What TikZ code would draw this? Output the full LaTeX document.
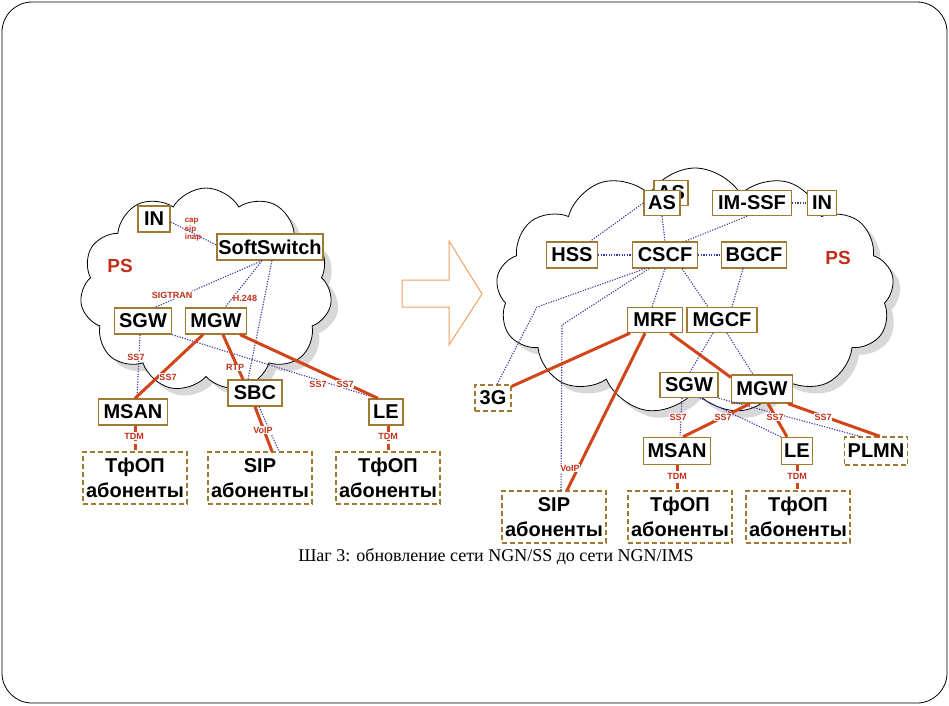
\documentclass[tikz,border=0pt]{standalone}
\usepackage{fontspec}
\setmainfont{Liberation Sans}
\newfontfamily\capfont{Liberation Serif}
\usetikzlibrary{shapes.symbols,shadows,calc}
\definecolor{boxc}{HTML}{A07A30}
\definecolor{redl}{HTML}{D2451A}
\definecolor{bluel}{HTML}{3A3AA8}
\definecolor{labc}{HTML}{C0301A}
\definecolor{arrc}{HTML}{F0A060}
\begin{document}
\begin{tikzpicture}[x=1pt,y=-1pt,
  box/.style={draw=boxc, line width=1.3pt, fill=white, font=\bfseries\fontsize{20}{20}\selectfont, inner sep=0pt, minimum height=26pt},
  dbox/.style={draw=boxc, line width=1.3pt, dash pattern=on 5pt off 3pt, fill=white, inner sep=0pt},
  subs/.style={dbox, minimum width=104pt, minimum height=52pt, align=center, font=\bfseries\fontsize{20}{25}\selectfont},
  blu/.style={draw=bluel, line width=1.1pt, dash pattern=on 1.2pt off 1.4pt},
  redc/.style={draw=redl, line width=3pt},
  tdm/.style={draw=redl, line width=3pt, dash pattern=on 6pt off 3pt},
  lab/.style={text=labc, font=\bfseries\fontsize{9}{9}\selectfont, inner sep=0.4pt, fill=white},
  cloudc/.style={cloud, cloud puffs=11, cloud puff arc=120, cloud ignores aspect, draw=black, line width=0.8pt, fill=white,
    drop shadow={shadow xshift=7pt, shadow yshift=-7pt, fill=gray!60}},
  ps/.style={text=labc, font=\bfseries\fontsize{19}{19}\selectfont}
]
\useasboundingbox (0,0) rectangle (949,705);
\draw[line width=0.8pt, rounded corners=30pt] (2,2) rectangle (947,703);

% clouds
\node[cloudc, minimum width=252pt, minimum height=204pt] (cl1) at (206,290) {};
\node[cloudc, cloud puffs=13, minimum width=398pt, minimum height=246pt] (cl2) at (695,291) {};

% arrow
\draw[arrc, line width=1pt] (402,280) -- (449,280) -- (449,241) -- (482,294) -- (449,345) -- (449,307) -- (402,307) -- cycle;

% ---------- left network ----------
\node[ps] (ps1) at (120,266) {PS};
\node[box, minimum width=32pt] (in1) at (154,219) {IN};
\node[box, minimum width=106pt] (ss) at (270,247) {SoftSwitch};
\node[box, minimum width=57pt] (sgw1) at (143,321) {SGW};
\node[box, minimum width=61pt] (mgw1) at (216,321) {MGW};
\node[box, minimum width=54pt] (sbc) at (255,393) {SBC};
\node[box, minimum width=69pt] (msan1) at (133,412) {MSAN};
\node[box, minimum width=34pt] (le1) at (386,412) {LE};
\node[subs] (tf1) at (135,478) {ТфОП\\абоненты};
\node[subs] (sip1) at (260,478) {SIP\\абоненты};
\node[subs] (tf2) at (388,478) {ТфОП\\абоненты};

\draw[blu] ([yshift=-3pt]in1.east) -- ([yshift=2pt]ss.west);
\draw[blu] ([xshift=-8pt]ss.south) -- ([xshift=12pt]sgw1.north);
\draw[blu] ([xshift=-8pt]ss.south) -- ([xshift=9pt]mgw1.north);
\draw[blu] ([xshift=2pt]ss.south) -- ([xshift=-7pt]sbc.north);
\draw[blu] ([xshift=-3pt]sgw1.south) -- ([xshift=4pt]msan1.north);
\draw[blu] (sgw1.south east) -- ([xshift=-9pt]le1.north);
\draw[redc] ([xshift=-13pt]mgw1.south) -- ([xshift=2pt]msan1.north);
\draw[redc] ([xshift=7pt]mgw1.south) -- ([xshift=-12pt]sbc.north);
\draw[redc] ([xshift=24pt]mgw1.south) -- ([xshift=-8pt]le1.north);
\draw[redc] (sbc.south) -- ([xshift=12pt]sip1.north);
\draw[blu] ([xshift=4pt]sbc.south) -- ([xshift=19pt]sip1.north);
\draw[tdm] ([xshift=2pt]msan1.south) -- (tf1.north);
\draw[tdm] ([xshift=2pt]le1.south) -- (tf2.north);

\node[lab, fill=none, align=left, font=\bfseries\fontsize{8}{8.5}\selectfont] (capl) at (193,230) {cap\\sip\\inap};
\node[lab] (l1) at (172,295) {SIGTRAN};
\node[lab] (l2) at (245,298) {H.248};
\node[lab] (l3) at (136,357) {SS7};
\node[lab] (l4) at (168,377) {SS7};
\node[lab] (l5) at (235,367) {RTP};
\node[lab] (l6) at (318,384) {SS7};
\node[lab] (l7) at (345,384) {SS7};
\node[lab] (l8) at (263,430) {VoIP};
\node[lab] (l9) at (134,436) {TDM};
\node[lab] (l10) at (388,436) {TDM};

% ---------- right network ----------
\node[ps] (ps2) at (838,258) {PS};
\node[box, minimum width=34pt, minimum height=25pt] (asb) at (671,193) {AS};
\node[box, minimum width=36pt, minimum height=25pt] (as) at (662,203) {AS};
\node[box, minimum width=79pt, minimum height=25pt] (imssf) at (752,203) {IM-SSF};
\node[box, minimum width=29pt, minimum height=25pt] (in2) at (822,203) {IN};
\node[box, minimum width=51pt] (hss) at (572,255) {HSS};
\node[box, minimum width=65pt] (cscf) at (665,255) {CSCF};
\node[box, minimum width=65pt] (bgcf) at (754,255) {BGCF};
\node[box, minimum width=55pt, minimum height=25pt] (mrf) at (655,320) {MRF};
\node[box, minimum width=70pt, minimum height=25pt] (mgcf) at (722,320) {MGCF};
\node[dbox, minimum width=36pt, minimum height=26pt, font=\bfseries\fontsize{20}{20}\selectfont] (g3) at (493,398) {3G};
\node[box, minimum width=58pt, minimum height=25pt] (sgw2) at (689,385) {SGW};
\node[box, minimum width=61pt, minimum height=28pt] (mgw2) at (762,389) {MGW};
\node[box, minimum width=67pt, minimum height=27pt] (msan2) at (677,451) {MSAN};
\node[box, minimum width=31pt, minimum height=27pt] (le2) at (797,451) {LE};
\node[dbox, minimum width=63pt, minimum height=28pt, font=\bfseries\fontsize{20}{20}\selectfont] (plmn) at (876,451) {PLMN};
\node[subs] (sip2) at (554,517) {SIP\\абоненты};
\node[subs] (tf3) at (680,517) {ТфОП\\абоненты};
\node[subs] (tf4) at (798,517) {ТфОП\\абоненты};

\coordinate (b1) at (537,307);
\coordinate (b2) at (562,325);

\draw[blu] (as.west) -- ([xshift=18pt]hss.north);
\draw[blu] (as.south) -- (cscf.north);
\draw[blu] ([xshift=-5pt]imssf.south) -- ([xshift=20pt]cscf.north);
\draw[blu] (imssf.east) -- (in2.west);
\draw[blu] (hss.east) -- (cscf.west);
\draw[blu] (cscf.east) -- (bgcf.west);
\draw[blu] (cscf.south) -- ([xshift=-3pt]mrf.north);
\draw[blu] ([xshift=17pt]cscf.south) -- ([xshift=-14pt]mgcf.north);
\draw[blu] ([xshift=-11pt]bgcf.south) -- ([xshift=10pt]mgcf.north);
\draw[blu] ([xshift=-20pt]cscf.south) -- (b1) -- ([xshift=4pt]g3.north);
\draw[blu] ([xshift=-16pt]cscf.south) -- (b2) -- ([xshift=7pt]sip2.north);
\draw[blu] ([xshift=-9pt]mgcf.south) -- ([xshift=1pt]sgw2.north);
\draw[blu] ([xshift=5pt]mgcf.south) -- ([xshift=-9pt]mgw2.north);
\draw[blu] ([xshift=-7pt]sgw2.south) -- ([xshift=3pt]msan2.north);
\draw[blu] ([xshift=11pt]sgw2.south) -- (le2.north west);
\draw[blu] (sgw2.south east) -- ([xshift=-16pt]plmn.north);

\draw[redc] ([xshift=-25pt]mrf.south) -- ([yshift=-2pt]g3.north east);
\draw[redc] ([xshift=-10pt]mrf.south) -- ([xshift=13pt]sip2.north);
\draw[redc] ([xshift=15pt]mrf.south) -- ([yshift=-3pt]mgw2.north west);
\draw[redc] ([xshift=-12pt]mgw2.south) -- ([xshift=6pt]msan2.north);
\draw[redc] ([xshift=6pt]mgw2.south) -- ([xshift=-10pt]le2.north);
\draw[redc] ([xshift=26pt]mgw2.south) -- ([xshift=4pt]plmn.north);
\draw[tdm] (msan2.south) -- (msan2.south |- tf3.north);
\draw[tdm] (le2.south) -- (le2.south |- tf4.north);

\node[lab] (r1) at (678,417) {SS7};
\node[lab] (r2) at (723,417) {SS7};
\node[lab] (r3) at (775,417) {SS7};
\node[lab] (r4) at (823,417) {SS7};
\node[lab] (r5) at (570,468) {VoIP};
\node[lab] (r6) at (677,476) {TDM};
\node[lab] (r7) at (797,476) {TDM};

\node[font=\capfont\fontsize{18}{18}\selectfont] (caption) at (496,557) {Шаг 3: обновление сети NGN/SS до сети NGN/IMS};
\end{tikzpicture}
\end{document}
